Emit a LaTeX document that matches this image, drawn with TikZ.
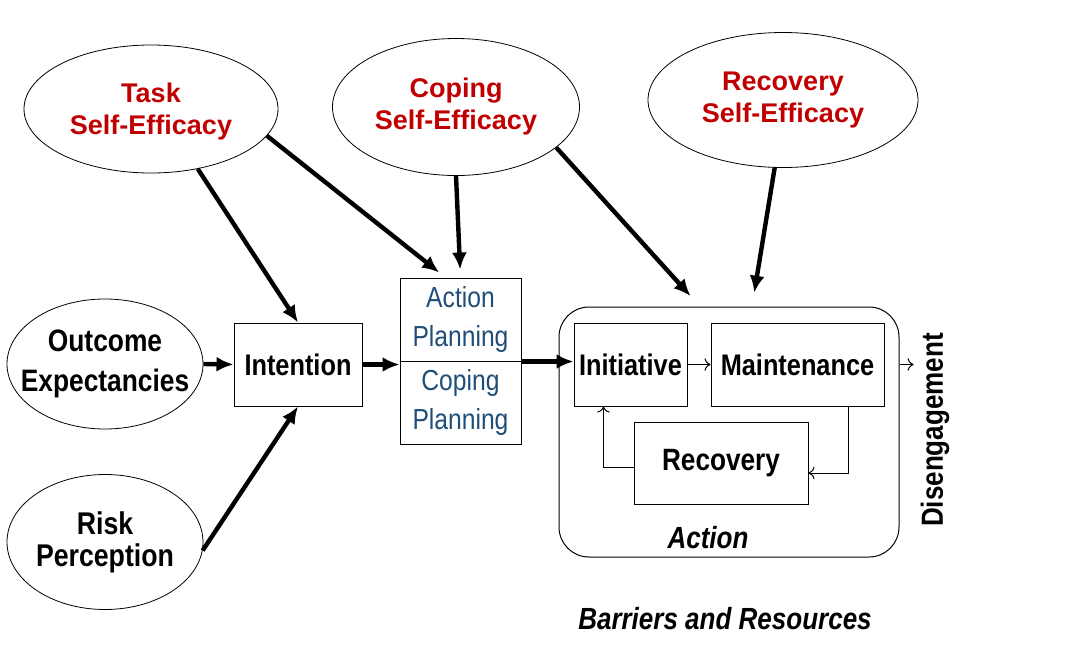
\documentclass[tikz,border=0pt]{standalone}
\usepackage{fontspec}
\setmainfont{Liberation Sans}
\newfontfamily\narrowsf[FakeStretch=0.85]{Liberation Sans}
\usetikzlibrary{shapes.geometric,arrows.meta,calc}
\definecolor{sered}{RGB}{192,0,0}
\definecolor{planblue}{RGB}{31,78,121}

\begin{document}
\begin{tikzpicture}[x=0.5pt,y=-0.5pt,
		se/.style={ellipse, draw, line width=0.4pt, inner sep=0pt, align=center,
				text=sered, font=\fontsize{13.5}{16}\selectfont\bfseries},
		src/.style={ellipse, draw, line width=0.4pt, inner xsep=-8pt, inner ysep=0pt, align=center,
				font=\narrowsf\fontsize{15.5}{20}\selectfont\bfseries},
		cbox/.style={rectangle, draw, line width=0.5pt, inner sep=0pt, minimum height=41.5pt,
				font=\narrowsf\fontsize{14.9}{18}\selectfont\bfseries},
		pbox/.style={rectangle, draw, line width=0.5pt, inner sep=0pt, align=center,
				minimum width=60.5pt, minimum height=41.5pt, text=planblue,
				font=\narrowsf\fontsize{14.5}{19.5}\selectfont},
		heavy/.style={-{Latex[length=8.5pt,width=7.5pt]}, line width=2.2pt},
		fine/.style={-{To[length=3pt]}, line width=0.5pt},
	]
	\useasboundingbox (0,0) rectangle (1089,644);
	% self-efficacy
	\node[se, minimum width=127pt, minimum height=64pt, text depth=0pt] (task) at (151,109) {Task\\Self-Efficacy};
	\node[se, minimum width=123.5pt, minimum height=68.5pt] (coping) at (456,107) {Coping\\Self-Efficacy};
	\node[se, minimum width=135pt, minimum height=67.5pt] (recov) at (783,100) {Recovery\\Self-Efficacy};
	\node[src, minimum width=98pt, minimum height=65pt] (outcome) at (105,364) {Outcome\\Expectancies};
	\node[src, minimum width=98pt, minimum height=67.5pt, font=\narrowsf\fontsize{15.7}{16}\selectfont\bfseries] (risk) at (105,542) {Risk\\Perception};
	% action phase
	\node[draw, rounded corners=15pt, line width=0.5pt, minimum width=170pt, minimum height=125pt] (action) at (729,432) {};
	\node[font=\narrowsf\fontsize{15.3}{18}\selectfont\bfseries\itshape] (actlbl) at (708,538) {Action};
	\node[cbox, minimum width=64pt] (intention) at (298,364.5) {Intention};
	\node[pbox] (aplan) at (460.5,319.5) {Action\\Planning};
	\node[pbox] (cplan) at (460.5,402.5) {Coping\\Planning};
	\node[cbox, minimum width=56.5pt] (init) at (630.5,364.5) {Initiative};
	\node[cbox, minimum width=86.5pt] (maint) at (797.5,364.5) {Maintenance};
	\node[cbox, minimum width=87pt, minimum height=41pt, font=\narrowsf\fontsize{15.4}{18}\selectfont\bfseries] (recovery) at (721,463) {Recovery};
	\node[rotate=90, font=\narrowsf\fontsize{15.3}{18}\selectfont\bfseries] (diseng) at (935,430) {Disengagement};
	\node[font=\narrowsf\fontsize{15.3}{18}\selectfont\bfseries\itshape] (barriers) at (725,619) {Barriers and Resources};
	% arrows
	\draw[heavy] (task.-52) -- (intention.north);
	\draw[heavy, shorten >=4pt] (task.-13) -- ($(aplan.north)+(-15,0)$);
	\draw[heavy, shorten >=4pt] (coping.south) -- (aplan.north);
	\draw[heavy, shorten >=7pt] (coping.-22) -- ($(action.north)+(-29,0)$);
	\draw[heavy, shorten >=7pt] (recov.-97) -- ($(action.north)+(23,0)$);
	\draw[heavy] (outcome.east) -- (intention.west);
	\draw[heavy] (risk.-5) -- (intention.south);
	\draw[heavy] (intention.east) -- (intention.east -| aplan.west);
	\draw[heavy] (aplan.south east) -- (aplan.south east -| init.west);
	\draw[fine] (init) -- (maint);
	\draw[fine] ([xshift=-18pt]maint.south east) |- ([yshift=-5pt]recovery.east);
	\draw[fine] ([yshift=-2pt]recovery.west) -| ([xshift=15pt]init.south west);
	\draw[fine] (action.east |- maint.east) -- (diseng.north |- maint.east);
\end{tikzpicture}
\end{document}
